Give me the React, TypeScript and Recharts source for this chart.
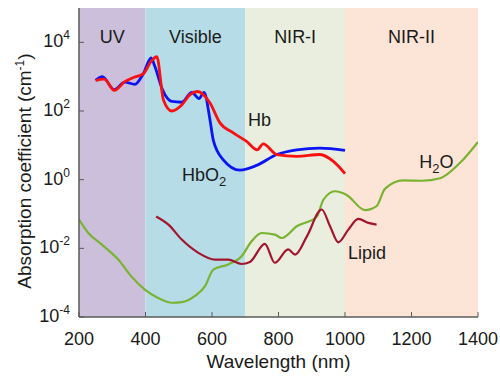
import React from 'react';
import { LineChart, Line, XAxis, YAxis, ReferenceArea, ReferenceDot } from 'recharts';

const FONT = '"Liberation Sans", Arial, Helvetica, sans-serif';

const wavelengthTicks = [200, 400, 600, 800, 1000, 1200, 1400];
const absorptionTicks = [1e-4, 1e-2, 1, 1e2, 1e4];

// spectral bands
const bandNames = ['UV', 'Visible', 'NIR-I', 'NIR-II'];
const bandStart = [200, 400, 700, 1000];
const bandEnd = [400, 700, 1000, 1400];
const bandColors = ['#cbbfdb', '#b6dde7', '#e9eedf', '#fce5d7'];

// Hb (deoxy-hemoglobin)
const hbNm = [250, 276, 306, 338, 368, 393, 417, 434, 454, 479, 509, 534, 557, 594, 624, 664, 704, 736, 754, 795, 855, 925, 965, 1000];
const hbValues = [780, 850, 400, 720, 980, 1200, 2800, 3800, 210, 100, 150, 300, 370, 170, 45, 23, 13, 7.4, 11, 5.4, 4.8, 5.4, 3.4, 1.5];

// HbO2 (oxy-hemoglobin)
const hbo2Nm = [250, 270, 306, 338, 368, 393, 417, 428, 451, 479, 509, 539, 561, 576, 594, 604, 634, 684, 734, 795, 855, 925, 1000];
const hbo2Values = [780, 1000, 420, 690, 600, 1200, 3500, 2000, 420, 190, 180, 350, 230, 350, 55, 14, 3.8, 1.9, 2.6, 5.4, 7.4, 8.3, 7.1];

// water
const waterNm = [200, 228, 268, 318, 358, 398, 438, 479, 509, 549, 579, 604, 649, 689, 719, 749, 789, 810, 855, 915, 935, 970, 1005, 1060, 1095, 1120, 1175, 1231, 1286, 1346, 1400];
const waterValues = [0.069, 0.028, 0.013, 0.0047, 0.0015, 0.00063, 0.00036, 0.00026, 0.00027, 0.00041, 0.00079, 0.0024, 0.0034, 0.0059, 0.016, 0.028, 0.025, 0.02, 0.044, 0.083, 0.26, 0.46, 0.36, 0.13, 0.17, 0.54, 0.95, 0.93, 1.1, 3.1, 12.6];

// lipid
const lipidNm = [432, 469, 509, 559, 609, 649, 689, 714, 759, 789, 829, 850, 885, 930, 955, 980, 1010, 1040, 1070, 1095];
const lipidValues = [0.085, 0.049, 0.018, 0.0074, 0.0047, 0.0047, 0.0035, 0.004, 0.0135, 0.0038, 0.0093, 0.0066, 0.022, 0.135, 0.044, 0.015, 0.035, 0.072, 0.055, 0.049];

const toPoints = (nm: number[], vals: number[]) => nm.map((x, i) => ({ nm: x, value: vals[i] }));

const AXIS = '#5a5a5a';
const TEXT = '#1a1a1a';

const BottomTick = ({ x, y, payload }: any) => (
  <g>
    <line x1={x} x2={x} y1={y} y2={y - 5} stroke={AXIS} />
    <text x={x} y={y + 28} textAnchor="middle" fontSize={18} fill={TEXT} fontFamily={FONT}>
      {payload.value}
    </text>
  </g>
);

const TopTick = ({ x, y }: any) => <line x1={x} x2={x} y1={y} y2={y + 5} stroke={AXIS} />;

const LeftTick = ({ x, y, payload }: any) => {
  const exp = Math.round(Math.log10(payload.value));
  return (
    <g>
      <line x1={x} x2={x + 5} y1={y} y2={y} stroke={AXIS} />
      <text x={x - 9} y={y + 5} textAnchor="end" fontSize={18} fill={TEXT} fontFamily={FONT}>
        <tspan>10</tspan>
        <tspan dy={-8} fontSize={12}>{exp}</tspan>
      </text>
    </g>
  );
};

const RightTick = ({ x, y }: any) => <line x1={x} x2={x - 5} y1={y} y2={y} stroke={AXIS} />;

const CurveLabel = (main: string, sub?: string, tail?: string) => (props: any) => {
  const { viewBox } = props;
  const x = viewBox.x + viewBox.width / 2;
  const y = viewBox.y + viewBox.height / 2;
  return (
    <text x={x} y={y} fontSize={18} fill={TEXT} fontFamily={FONT}>
      <tspan>{main}</tspan>
      {sub && <tspan dy={5} fontSize={13}>{sub}</tspan>}
      {tail && <tspan dy={-5}>{tail}</tspan>}
    </text>
  );
};

const YTitle = () => (
  <text x={31} y={171} transform="rotate(-90 31 171)" textAnchor="middle" fontSize={19} fill={TEXT} fontFamily={FONT}>
    <tspan>Absorption coefficient (cm</tspan>
    <tspan dy={-7} fontSize={12}>-1</tspan>
    <tspan dy={7}>)</tspan>
  </text>
);

const App = () => {
  return (
    <div style={{ position: 'absolute', left: 0, top: 0, width: 500, height: 376, background: '#fff' }}>
      <LineChart width={500} height={376} margin={{ top: 8, right: 22, left: 0, bottom: 0 }} style={{ fontFamily: FONT }}>
        {bandNames.map((name, i) => (
          <ReferenceArea
            key={name}
            x1={bandStart[i]}
            x2={bandEnd[i]}
            fill={bandColors[i]}
            fillOpacity={1}
            stroke="none"
            ifOverflow="hidden"
            label={{ value: name, position: 'insideTop', offset: 22, fontSize: 18, fill: TEXT }}
          />
        ))}
        <XAxis
          dataKey="nm"
          type="number"
          domain={[200, 1400]}
          ticks={wavelengthTicks}
          allowDataOverflow
          height={59}
          tickSize={0}
          tickMargin={0}
          tick={<BottomTick />}
          axisLine={{ stroke: AXIS, strokeWidth: 1.5 }}
          tickLine={false}
          label={{ value: 'Wavelength (nm)', position: 'insideBottom', offset: 8, fontSize: 19, fill: TEXT }}
        />
        <XAxis
          xAxisId="top"
          orientation="top"
          dataKey="nm"
          type="number"
          domain={[200, 1400]}
          ticks={wavelengthTicks}
          allowDataOverflow
          height={0}
          tickSize={0}
          tickMargin={0}
          tick={<TopTick />}
          axisLine={{ stroke: '#8a8a8a' }}
          tickLine={false}
        />
        <YAxis
          scale="log"
          type="number"
          domain={[1e-4, 1e5]}
          ticks={absorptionTicks}
          allowDataOverflow
          width={79}
          tickSize={0}
          tickMargin={0}
          tick={<LeftTick />}
          axisLine={{ stroke: AXIS, strokeWidth: 1.5 }}
          tickLine={false}
          label={{ content: <YTitle /> }}
        />
        <YAxis
          yAxisId="right"
          orientation="right"
          scale="log"
          type="number"
          domain={[1e-4, 1e5]}
          ticks={absorptionTicks}
          allowDataOverflow
          width={0}
          tickSize={0}
          tickMargin={0}
          tick={<RightTick />}
          axisLine={{ stroke: '#8a8a8a' }}
          tickLine={false}
        />
        <Line data={toPoints(hbo2Nm, hbo2Values)} dataKey="value" type="monotone" stroke="#0a14f5" strokeWidth={2.8} dot={false} isAnimationActive={false} />
        <Line data={toPoints(hbNm, hbValues)} dataKey="value" type="monotone" stroke="#fa1010" strokeWidth={2.8} dot={false} isAnimationActive={false} />
        <Line data={toPoints(waterNm, waterValues)} dataKey="value" type="monotone" stroke="#7ab332" strokeWidth={2.2} dot={false} isAnimationActive={false} />
        <Line data={toPoints(lipidNm, lipidValues)} dataKey="value" type="monotone" stroke="#a3142f" strokeWidth={2.2} dot={false} isAnimationActive={false} />
        <ReferenceDot x={708} y={37} r={0} fill="none" stroke="none" label={{ content: CurveLabel('Hb') }} />
        <ReferenceDot x={510} y={0.93} r={0} fill="none" stroke="none" label={{ content: CurveLabel('HbO', '2') }} />
        <ReferenceDot x={1223} y={2.2} r={0} fill="none" stroke="none" label={{ content: CurveLabel('H', '2', 'O') }} />
        <ReferenceDot x={1009} y={0.005} r={0} fill="none" stroke="none" label={{ content: CurveLabel('Lipid') }} />
      </LineChart>
    </div>
  );
};

export default App;
